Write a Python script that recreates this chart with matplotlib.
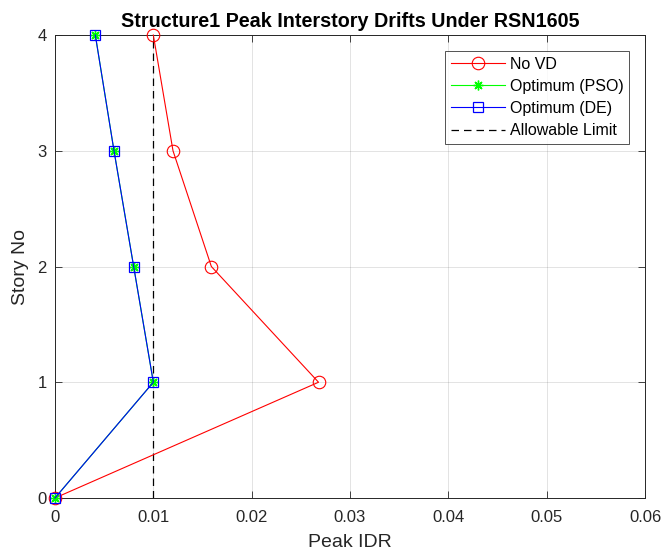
import numpy as np
import matplotlib.pyplot as plt

plt.rcParams['font.family'] = ['Liberation Sans', 'DejaVu Sans']

stories = [0, 1, 2, 3, 4]
idr_novd = [0, 0.0268, 0.0159, 0.0120, 0.0100]
idr_pso = [0, 0.0100, 0.0080, 0.0060, 0.0041]
idr_de = [0, 0.0100, 0.0080, 0.0060, 0.0041]
allowable = 0.01

axc = (0.15, 0.15, 0.15)

fig = plt.figure(figsize=(6.61, 5.54), dpi=100)
ax = fig.add_axes([0.0832, 0.1011, 0.8926, 0.8357])

ax.plot(idr_novd, stories, color='red', lw=0.8, marker='o', ms=9, mfc='none', mec='red',
        mew=0.8, label='No VD', clip_on=False, zorder=3)
ax.plot(idr_pso, stories, color='#00ff00', lw=0.8, marker=(8, 2, 0), ms=7, mec='#00ff00',
        mew=1.0, label='Optimum (PSO)', clip_on=False, zorder=4)
ax.plot(idr_de, stories, color='blue', lw=0.8, marker='s', ms=7, mfc='none', mec='blue',
        mew=0.9, label='Optimum (DE)', clip_on=False, zorder=5)
ax.plot([allowable, allowable], [0, 4], color='black', ls=(0, (6, 4)), lw=0.9,
        label='Allowable Limit', zorder=2)

ax.set_xlim(0, 0.06)
ax.set_ylim(0, 4)
ax.set_xticks(np.arange(0, 0.061, 0.01))
ax.set_xticklabels(['0', '0.01', '0.02', '0.03', '0.04', '0.05', '0.06'])
ax.set_yticks(stories)
ax.grid(True, color=(0.15, 0.15, 0.15), alpha=0.15, lw=0.6)
ax.tick_params(direction='in', colors=axc, labelsize=12, length=5, width=0.6,
               top=True, right=True)
ax.tick_params(axis='x', pad=9)
ax.tick_params(axis='y', pad=6)
for s in ax.spines.values():
    s.set_color(axc)
    s.set_linewidth(0.7)

ax.set_xlabel('Peak IDR', fontsize=14, color=axc, labelpad=6)
ax.set_ylabel('Story No', fontsize=14, color=axc, labelpad=6)
ax.set_title('Structure1 Peak Interstory Drifts Under RSN1605', fontsize=14.2,
             fontweight='bold', color='black', pad=6)

leg = ax.legend(loc='upper right', fontsize=11.5, frameon=True, fancybox=False,
                edgecolor=axc, borderaxespad=1.0, handlelength=3.4, labelspacing=0.45,
                handletextpad=0.3, borderpad=0.35)
leg.get_frame().set_linewidth(0.7)

fig.savefig('out.png', dpi=100)
